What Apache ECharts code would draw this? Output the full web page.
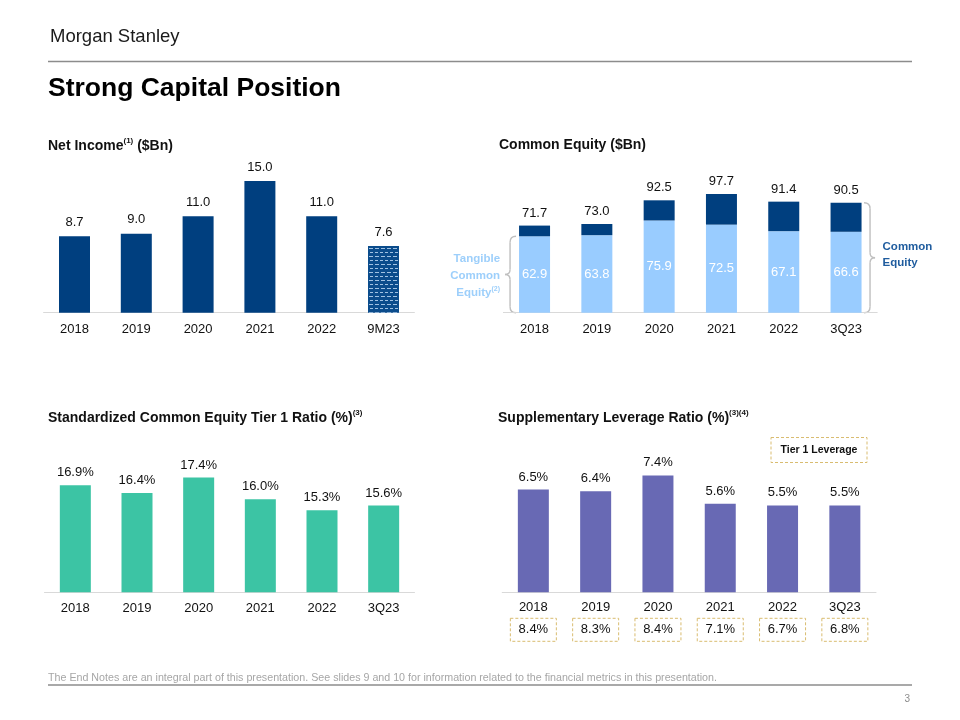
<!DOCTYPE html>
<html><head><meta charset="utf-8">
<script src="https://cdn.jsdelivr.net/npm/echarts@6/dist/echarts.min.js"></script>
<style>html,body{margin:0;padding:0;background:#fff}#c{width:960px;height:720px}</style>
</head><body><div id="c"></div>
<script>
// ---- Data ----
const niCats = ['2018', '2019', '2020', '2021', '2022', '9M23'];
const niValues = [8.7, 9.0, 11.0, 15.0, 11.0, 7.6];

const ceCats = ['2018', '2019', '2020', '2021', '2022', '3Q23'];
const ceTotal = [71.7, 73.0, 92.5, 97.7, 91.4, 90.5];
const ceTangible = [62.9, 63.8, 75.9, 72.5, 67.1, 66.6];

const cetCats = ['2018', '2019', '2020', '2021', '2022', '3Q23'];
const cetValues = [16.9, 16.4, 17.4, 16.0, 15.3, 15.6];

const slrCats = ['2018', '2019', '2020', '2021', '2022', '3Q23'];
const slrValues = [6.5, 6.4, 7.4, 5.6, 5.5, 5.5];
const tier1Values = [8.4, 8.3, 8.4, 7.1, 6.7, 6.8];

// ---- Style ----
const FONT = '"Liberation Sans", Arial, Helvetica, sans-serif';
const NAVY = '#003F7F';
const LIGHTBLUE = '#99CCFF';
const TEAL = '#3CC4A4';
const PURPLE = '#6869B4';
const GOLD = '#D9BC70';
const TXT = '#111111';
const BARW = 31;

const chart = echarts.init(document.getElementById('c'), null, {renderer: 'canvas'});

function catAxis(gi, data, margin) {
  return {
    gridIndex: gi, type: 'category', data: data,
    axisLine: {show: true, lineStyle: {color: '#D9D9D9', width: 1}},
    axisTick: {show: false},
    axisLabel: {color: TXT, fontSize: 13, fontFamily: FONT, margin: margin, interval: 0},
    splitLine: {show: false}
  };
}
function valAxis(gi, min, max) {
  return {gridIndex: gi, type: 'value', min: min, max: max, show: false, splitLine: {show: false}};
}
function topLabel(fmt, dist) {
  return {show: true, position: 'top', distance: dist, color: TXT, fontSize: 13, fontFamily: FONT, formatter: fmt};
}

const option = {
  animation: false,
  backgroundColor: '#ffffff',
  grid: [
    {left: 43.6, top: 154.7, width: 370.8, height: 158},
    {left: 503.4, top: 166.9, width: 373.8, height: 145.8},
    {left: 44.5, top: 437.3, width: 370, height: 155},
    {left: 502.2, top: 434.3, width: 373.8, height: 158}
  ],
  xAxis: [
    catAxis(0, niCats, 10),
    catAxis(1, ceCats, 10),
    catAxis(2, cetCats, 10),
    catAxis(3, slrCats, 8.5),
    {
      gridIndex: 3, type: 'category', data: slrCats, position: 'bottom', offset: 0,
      axisLine: {show: false}, axisTick: {show: false}, splitLine: {show: false},
      axisLabel: {
        interval: 0, margin: 30,
        formatter: function (v, i) { return '{b|' + tier1Values[i].toFixed(1) + '%}'; },
        rich: {
          b: {
            fontSize: 13, fontFamily: FONT, color: TXT, width: 46, lineHeight: 15,
            padding: [5, 0, 5, 0], align: 'center',
            borderColor: GOLD, borderWidth: 1, borderType: [3, 2]
          }
        }
      }
    }
  ],
  yAxis: [
    valAxis(0, 0, 18),
    valAxis(1, 0, 120),
    valAxis(2, 10, 20),
    valAxis(3, 0, 10)
  ],
  series: [
    {
      type: 'bar', xAxisIndex: 0, yAxisIndex: 0, barWidth: BARW,
      itemStyle: {color: NAVY},
      data: niValues.map(function (v, i) {
        if (niCats[i] === '9M23') {
          return {
            value: v,
            itemStyle: {
              color: '#0B4C8C',
              decal: {
                symbol: 'rect', symbolSize: 1, color: 'rgba(170,200,232,0.95)',
                dashArrayX: [[3, 1.6], [0.8, 1.6, 2.2, 0]], dashArrayY: [1, 2.3], rotation: 0
              }
            }
          };
        }
        return v;
      }),
      label: topLabel(function (p) { return p.value.toFixed(1); }, 7.5)
    },
    {
      type: 'bar', xAxisIndex: 1, yAxisIndex: 1, barWidth: BARW, stack: 'ce',
      itemStyle: {color: LIGHTBLUE},
      data: ceTangible,
      label: {show: true, position: 'inside', color: '#ffffff', fontSize: 13, fontFamily: FONT,
        formatter: function (p) { return p.value.toFixed(1); }}
    },
    {
      type: 'bar', xAxisIndex: 1, yAxisIndex: 1, barWidth: BARW, stack: 'ce',
      itemStyle: {color: NAVY},
      data: ceTotal.map(function (t, i) { return Math.round((t - ceTangible[i]) * 10) / 10; }),
      label: topLabel(function (p) { return ceTotal[p.dataIndex].toFixed(1); }, 6)
    },
    {
      type: 'bar', xAxisIndex: 2, yAxisIndex: 2, barWidth: BARW,
      itemStyle: {color: TEAL},
      data: cetValues,
      label: topLabel(function (p) { return p.value.toFixed(1) + '%'; }, 6)
    },
    {
      type: 'bar', xAxisIndex: 3, yAxisIndex: 3, barWidth: BARW,
      itemStyle: {color: PURPLE},
      data: slrValues,
      label: topLabel(function (p) { return p.value.toFixed(1) + '%'; }, 6)
    }
  ]
};

chart.setOption(option);

// ---- Annotations (header, titles, braces, boxes) ----
function txt(x, y, text, o) {
  o = o || {};
  return {
    type: 'text', x: x, y: y, silent: true,
    style: {
      text: text, fill: o.fill || TXT, fontSize: o.size || 14, fontWeight: o.weight || 'normal',
      fontFamily: FONT, align: o.align || 'left', verticalAlign: o.va || 'middle', rich: o.rich
    }
  };
}
function titleRich(size) {
  return {
    m: {fontSize: size, fontWeight: 'bold', fontFamily: FONT, fill: TXT, lineHeight: 18},
    s: {fontSize: 8, fontWeight: 'bold', fontFamily: FONT, fill: TXT, verticalAlign: 'top', lineHeight: 18}
  };
}
const BRACE = {fill: 'none', stroke: '#BFBFBF', lineWidth: 1.4};
function seg(x1, y1, x2, y2) {
  return {type: 'line', silent: true, shape: {x1: x1, y1: y1, x2: x2, y2: y2}, style: BRACE};
}
function qc(x1, y1, cx, cy, x2, y2) {
  return {type: 'bezierCurve', silent: true, shape: {x1: x1, y1: y1, cpx1: cx, cpy1: cy, x2: x2, y2: y2}, style: BRACE};
}
// dir = -1: tip points left (ends curl right); dir = +1: tip points right
function brace(x0, y1, y2, dir) {
  const ym = (y1 + y2) / 2, e = -dir * 6, t = dir * 5;
  return [
    qc(x0 + e, y1, x0, y1, x0, y1 + 6),
    seg(x0, y1 + 6, x0, ym - 5),
    qc(x0, ym - 5, x0, ym, x0 + t, ym),
    qc(x0 + t, ym, x0, ym, x0, ym + 5),
    seg(x0, ym + 5, x0, y2 - 6),
    qc(x0, y2 - 6, x0, y2, x0 + e, y2)
  ];
}

const g = [];
g.push(txt(50, 37, 'Morgan Stanley', {size: 18.5, fill: '#1a1a1a'}));
g.push({type: 'line', silent: true, shape: {x1: 48, y1: 61.5, x2: 912, y2: 61.5}, style: {stroke: '#8C8C8C', lineWidth: 1.5}});
g.push(txt(48, 89, 'Strong Capital Position', {size: 26.5, weight: 'bold', fill: '#000'}));

g.push(txt(48, 146, '{m|Net Income}{s|(1)}{m| ($Bn)}', {rich: titleRich(14)}));
g.push(txt(499, 145, '{m|Common Equity ($Bn)}', {rich: titleRich(14)}));
g.push(txt(48, 418, '{m|Standardized Common Equity Tier 1 Ratio (%)}{s|(3)}', {rich: titleRich(14)}));
g.push(txt(498, 418, '{m|Supplementary Leverage Ratio (%)}{s|(3)(4)}', {rich: titleRich(14)}));

// Footer
g.push(txt(48, 678, 'The End Notes are an integral part of this presentation. See slides 9 and 10 for information related to the financial metrics in this presentation.', {size: 10.7, fill: '#A6A6A6'}));
g.push({type: 'line', silent: true, shape: {x1: 48, y1: 685, x2: 912, y2: 685}, style: {stroke: '#8C8C8C', lineWidth: 1.5}});
g.push(txt(910, 699, '3', {size: 10, fill: '#8C8C8C', align: 'right'}));

// Braces computed from the common equity axes
function px(gi, cat, val) { return chart.convertToPixel({gridIndex: gi}, [cat, val]); }
const ceBase = px(1, 0, 0)[1];
const lTop = px(1, 0, ceTangible[0]);
const rTop = px(1, ceCats.length - 1, ceTotal[ceTotal.length - 1]);

(function () {
  const x0 = lTop[0] - BARW / 2 - 9, y1 = lTop[1], y2 = ceBase, ym = (y1 + y2) / 2;
  brace(x0, y1, y2, -1).forEach(function (el) { g.push(el); });
  const c = ym + 1, tx = x0 - 10;
  const LB = '#9DCFFB';
  g.push(txt(tx, c - 17, 'Tangible', {size: 11.5, weight: 'bold', fill: LB, align: 'right'}));
  g.push(txt(tx, c, 'Common', {size: 11.5, weight: 'bold', fill: LB, align: 'right'}));
  g.push(txt(tx, c + 17, '{m|Equity}{s|(2)}', {align: 'right', rich: {
    m: {fontSize: 11.5, fontWeight: 'bold', fontFamily: FONT, fill: LB, lineHeight: 14},
    s: {fontSize: 7, fontWeight: 'bold', fontFamily: FONT, fill: LB, verticalAlign: 'top', lineHeight: 14}
  }}));
})();

(function () {
  const x0 = rTop[0] + BARW / 2 + 8.5, y1 = rTop[1], y2 = ceBase, ym = (y1 + y2) / 2;
  brace(x0, y1, y2, 1).forEach(function (el) { g.push(el); });
  const c = ym - 3, tx = x0 + 12.5;
  const DB = '#1F5C9E';
  g.push(txt(tx, c - 8.3, 'Common', {size: 11.5, weight: 'bold', fill: DB}));
  g.push(txt(tx, c + 8.3, 'Equity', {size: 11.5, weight: 'bold', fill: DB}));
})();

// Tier 1 Leverage legend box
g.push({type: 'rect', silent: true, shape: {x: 771, y: 437.5, width: 96, height: 25},
  style: {fill: 'none', stroke: GOLD, lineWidth: 1, lineDash: [3, 2]}});
g.push(txt(819, 450, 'Tier 1 Leverage', {size: 10.5, weight: 'bold', align: 'center'}));

chart.setOption({graphic: g});
</script>
</body></html>
